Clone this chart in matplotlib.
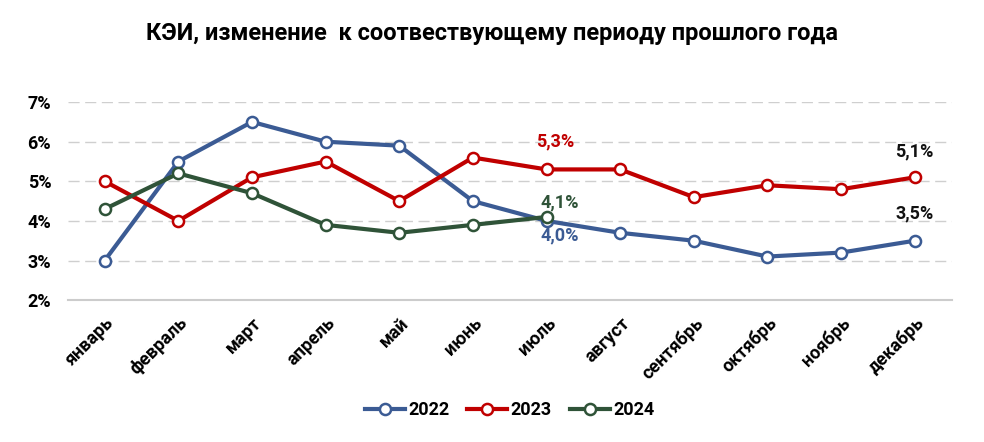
import matplotlib
matplotlib.use("Agg")
import matplotlib.pyplot as plt

months = ["январь", "февраль", "март", "апрель", "май", "июнь",
          "июль", "август", "сентябрь", "октябрь", "ноябрь", "декабрь"]
kei_2022 = [3.0, 5.5, 6.5, 6.0, 5.9, 4.5, 4.0, 3.7, 3.5, 3.1, 3.2, 3.5]
kei_2023 = [5.0, 4.0, 5.1, 5.5, 4.5, 5.6, 5.3, 5.3, 4.6, 4.9, 4.8, 5.1]
kei_2024 = [4.3, 5.2, 4.7, 3.9, 3.7, 3.9, 4.1]
yticks = [2, 3, 4, 5, 6, 7]

C22 = "#3B5B94"
C23 = "#C00000"
C24 = "#2F5338"

plt.rcParams["font.family"] = ["Roboto", "DejaVu Sans"]

fig = plt.figure(figsize=(9.84, 4.42), dpi=100)
ax = fig.add_axes([0.069, 0.321, 0.898, 0.448])

series = [("2022", kei_2022, C22), ("2023", kei_2023, C23), ("2024", kei_2024, C24)]
for name, vals, col in series:
    ax.plot(range(len(vals)), vals, color=col, lw=3, marker="o", ms=8,
            mfc="white", mec=col, mew=1.8, label=name, zorder=3)

ax.set_xlim(-0.5, 11.5)
ax.set_ylim(2, 7)
ax.set_yticks(yticks)
ax.set_yticklabels([f"{v}%" for v in yticks], fontsize=13, fontweight="bold")
ax.set_xticks(range(len(months)))
ax.set_xticklabels(months, rotation=45, ha="right", rotation_mode="anchor",
                   fontsize=13, fontweight="bold")
ax.tick_params(length=0, pad=12)
ax.tick_params(axis="x", pad=10)

for y in yticks[1:]:
    ax.axhline(y, color="#CFCFCF", lw=1, ls=(0, (8, 4)), zorder=1)
for s in ["top", "right", "left"]:
    ax.spines[s].set_visible(False)
ax.spines["bottom"].set_color("#CCCCCC")
ax.spines["bottom"].set_linewidth(1.5)

# data labels
lbl = dict(textcoords="offset points", fontsize=13, fontweight="bold")
ax.annotate("5,3%", (6, kei_2023[6]), xytext=(6, 14), ha="center", va="bottom",
            color=C23, **lbl)
ax.annotate("4,1%", (6, kei_2024[6]), xytext=(-4, 4), ha="left", va="bottom",
            color=C24, **lbl)
ax.annotate("4,0%", (6, kei_2022[6]), xytext=(-4, -4), ha="left", va="top",
            color=C22, **lbl)
ax.annotate("5,1%", (11, kei_2023[11]), xytext=(0, 12), ha="center", va="bottom",
            color="#111111", **lbl)
ax.annotate("3,5%", (11, kei_2022[11]), xytext=(0, 13), ha="center", va="bottom",
            color="#111111", **lbl)

fig.suptitle("КЭИ, изменение  к соотвествующему периоду прошлого года",
             y=0.95, fontsize=17, fontweight="bold")

ax.legend(loc="center", bbox_to_anchor=(0.5, -0.555), ncol=3, frameon=False,
          prop={"size": 13, "weight": "bold"}, handlelength=2.2, columnspacing=1.0,
          handletextpad=0.2)

fig.savefig("out.png", dpi=100)
